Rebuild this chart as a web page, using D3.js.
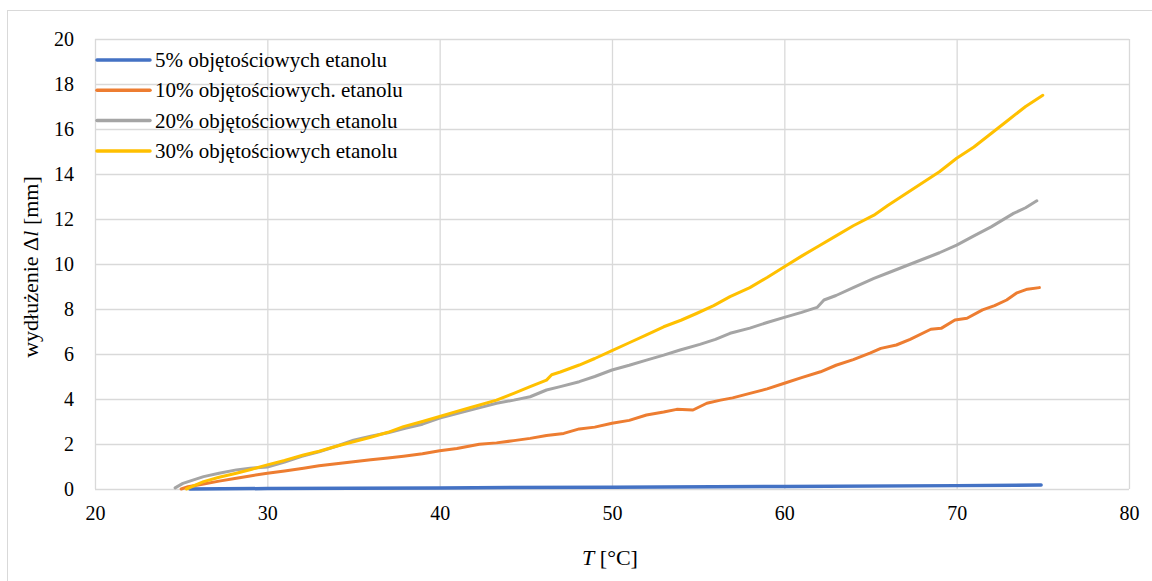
<!DOCTYPE html>
<html>
<head>
    <meta charset="utf-8">
    <title>Wydłużenie</title>
    <script src="https://d3js.org/d3.v7.min.js"></script>
    <style>
        body { margin: 0; background: #fff; }
    </style>
</head>
<body>
    <svg id="chart" width="1152" height="581"></svg>
    <script>
        // data
        const seriesNames = ["5% objętościowych etanolu", "10% objętościowych. etanolu", "20% objętościowych etanolu", "30% objętościowych etanolu"]
        const colors = ["#4472C4", "#ED7D31", "#A5A5A5", "#FFC000"]

        const t5 = [25.5, 30, 40, 50, 60, 70, 74.9]
        const v5 = [0, 0.02, 0.05, 0.08, 0.11, 0.15, 0.18]

        const t10 = [25.0, 25.4, 26.3, 27.2, 28.2, 29, 30, 31, 32.1, 33, 34, 35, 36, 37, 37.9, 39, 40, 41, 42.3, 43.3, 44.3, 45.25, 46.2, 47.2, 48.1, 49, 50, 51, 52, 53, 53.76, 54.7, 55.5, 56.3, 57, 58, 59, 60, 61, 62.1, 63, 64, 65, 65.6, 66.5, 67.3, 68.5, 69.1, 69.9, 70.6, 71.5, 72.2, 72.9, 73.5, 74.1, 74.8]
        const v10 = [0, 0.1, 0.22, 0.35, 0.48, 0.58, 0.7, 0.8, 0.92, 1.03, 1.12, 1.21, 1.3, 1.38, 1.46, 1.57, 1.7, 1.8, 1.99, 2.05, 2.15, 2.25, 2.38, 2.47, 2.67, 2.75, 2.92, 3.05, 3.29, 3.42, 3.54, 3.51, 3.81, 3.95, 4.05, 4.25, 4.45, 4.7, 4.95, 5.21, 5.5, 5.75, 6.05, 6.25, 6.4, 6.65, 7.1, 7.14, 7.51, 7.59, 7.96, 8.15, 8.4, 8.72, 8.88, 8.95]

        const t20 = [24.65, 25.1, 26.3, 27.2, 28.2, 29, 30, 31, 32, 33, 34, 35, 36, 37, 38, 39, 40, 41, 42, 43.3, 44.3, 45.25, 46.2, 47, 48.1, 49, 50, 51, 52, 53, 53.95, 55.1, 56, 56.85, 58, 59, 60, 61, 61.9, 62.3, 63, 64, 65.2, 66, 67, 68, 69, 70, 71, 72, 73.3, 74, 74.65]
        const v20 = [0.05, 0.25, 0.55, 0.7, 0.85, 0.92, 0.98, 1.2, 1.45, 1.65, 1.9, 2.17, 2.35, 2.5, 2.7, 2.88, 3.15, 3.35, 3.55, 3.81, 3.95, 4.1, 4.4, 4.55, 4.77, 5.0, 5.29, 5.5, 5.73, 5.95, 6.18, 6.43, 6.65, 6.92, 7.15, 7.4, 7.63, 7.85, 8.07, 8.4, 8.6, 8.95, 9.36, 9.6, 9.9, 10.2, 10.5, 10.84, 11.25, 11.65, 12.25, 12.5, 12.81]

        const t30 = [25.3, 26.3, 27.2, 28.2, 29.1, 30, 31, 32.1, 33, 34, 35, 36, 37, 37.9, 39, 40, 41, 41.8, 43.3, 44.3, 45.25, 46.2, 46.5, 47, 48.1, 49, 50, 51, 52, 53, 54, 54.9, 55.9, 56.85, 58, 59, 60, 61, 62, 63, 64, 65.2, 66, 67, 68, 69, 70, 71, 72, 73, 74, 75]
        const v30 = [0, 0.33, 0.52, 0.7, 0.88, 1.07, 1.27, 1.51, 1.68, 1.9, 2.1, 2.3, 2.52, 2.77, 3.0, 3.22, 3.45, 3.62, 3.95, 4.25, 4.55, 4.84, 5.08, 5.2, 5.51, 5.8, 6.15, 6.5, 6.85, 7.21, 7.5, 7.8, 8.15, 8.55, 8.95, 9.4, 9.88, 10.35, 10.8, 11.25, 11.7, 12.17, 12.6, 13.1, 13.6, 14.1, 14.7, 15.2, 15.8, 16.4, 17.0, 17.5]

        const xTicks = [20, 30, 40, 50, 60, 70, 80]
        const yTicks = [0, 2, 4, 6, 8, 10, 12, 14, 16, 18, 20]

        const series = [[t5, v5], [t10, v10], [t20, v20], [t30, v30]]
            .map((s, i) => ({ name: seriesNames[i], color: colors[i], points: s[0].map((t, j) => [t, s[1][j]]) }))

        const FONT = "Liberation Serif, DejaVu Serif, serif"

        const svg = d3.select("#chart")
        const margin = { left: 95, top: 39, right: 23, bottom: 92 }
        const width = +svg.attr("width")
        const height = +svg.attr("height")
        const innerWidth = width - margin.left - margin.right
        const innerHeight = height - margin.top - margin.bottom

        // outer chart frame
        svg.append("rect")
            .attr("x", 7.5).attr("y", 10.5)
            .attr("width", 1160).attr("height", 600)
            .attr("fill", "#fff")
            .attr("stroke", "#d9d9d9")

        const xScale = d3.scaleLinear().domain([20, 80]).range([0, innerWidth])
        const yScale = d3.scaleLinear().domain([0, 20]).range([innerHeight, 0])

        const g = svg.append("g")
            .attr("transform", `translate(${margin.left},${margin.top})`)

        // grid + tick labels
        const xAxis = d3.axisBottom(xScale).tickValues(xTicks).tickSize(-innerHeight).tickPadding(12).tickFormat(d3.format("d"))
        const yAxis = d3.axisLeft(yScale).tickValues(yTicks).tickSize(-innerWidth).tickPadding(21).tickFormat(d3.format("d"))

        const gx = g.append("g").attr("transform", `translate(0,${innerHeight})`).call(xAxis)
        const gy = g.append("g").call(yAxis)
        for (const a of [gx, gy]) {
            a.attr("font-family", FONT).attr("font-size", 20)
            a.select(".domain").remove()
            a.selectAll(".tick line").attr("stroke", "#d9d9d9").attr("stroke-width", 1.3)
            a.selectAll(".tick text").attr("fill", "#000")
        }
        gx.selectAll(".tick text").attr("dy", "0.95em")

        const line = d3.line()
            .x(d => xScale(d[0]))
            .y(d => yScale(d[1]))

        g.selectAll(".series")
            .data(series)
            .enter()
            .append("path")
            .attr("class", "series")
            .attr("d", d => line(d.points))
            .attr("fill", "none")
            .attr("stroke", d => d.color)
            .attr("stroke-width", (d, i) => i == 0 ? 3.5 : 3)
            .attr("stroke-linecap", "round")
            .attr("stroke-linejoin", "round")

        // legend
        const legend = svg.append("g").attr("transform", "translate(97,60)")
            .attr("font-family", FONT).attr("font-size", 21)
        const items = legend.selectAll("g")
            .data(series)
            .enter()
            .append("g")
            .attr("transform", (d, i) => `translate(0,${i * 30.3})`)
        items.append("line")
            .attr("x1", 0).attr("x2", 53)
            .attr("stroke", d => d.color)
            .attr("stroke-width", 3.5)
            .attr("stroke-linecap", "round")
        items.append("text")
            .attr("x", 58).attr("y", 7)
            .text(d => d.name)

        // axis titles
        const xt = svg.append("text")
            .attr("x", 610).attr("y", 565)
            .attr("text-anchor", "middle")
            .attr("font-family", FONT).attr("font-size", 22)
        xt.append("tspan").attr("font-style", "italic").text("T")
        xt.append("tspan").text(" [°C]")

        const yt = svg.append("text")
            .attr("transform", "translate(38,267) rotate(-90)")
            .attr("text-anchor", "middle")
            .attr("font-family", FONT).attr("font-size", 22)
        yt.append("tspan").text("wydłużenie Δ")
        yt.append("tspan").attr("font-style", "italic").text("l")
        yt.append("tspan").text(" [mm]")
    </script>
</body>
</html>
